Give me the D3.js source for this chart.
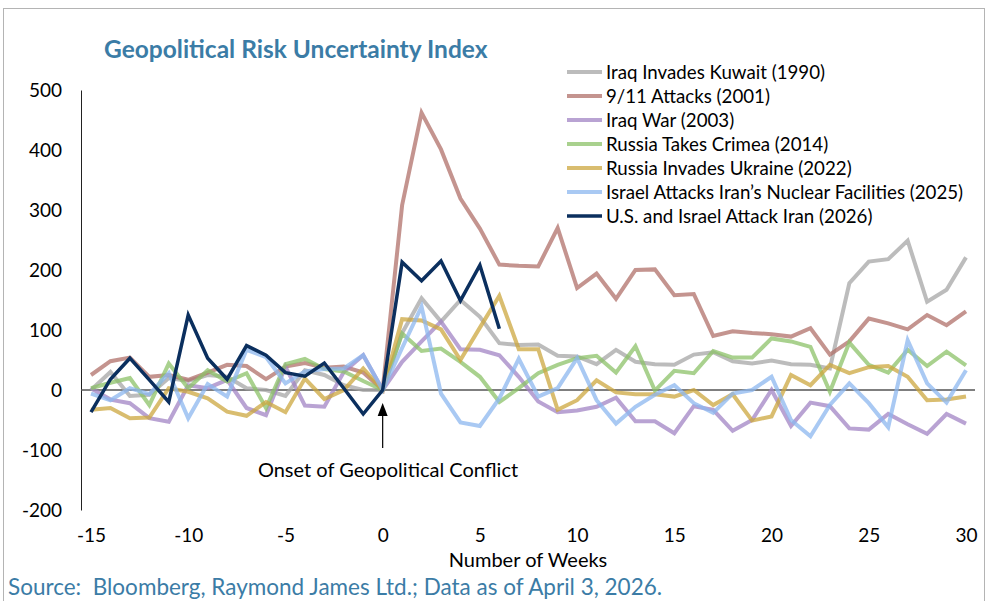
<!DOCTYPE html>
<html>
<head>
<meta charset="utf-8">
<script src="https://cdn.jsdelivr.net/npm/d3@7"></script>
<style>
  body { margin: 0; background: #fff; }
  text { font-family: Lato, "Open Sans", sans-serif; }
</style>
</head>
<body>
<div id="chart"></div>
<script>
const width = 987;
const height = 601;

const weeks = [-15, -14, -13, -12, -11, -10, -9, -8, -7, -6, -5, -4, -3, -2, -1, 0,
  1, 2, 3, 4, 5, 6, 7, 8, 9, 10, 11, 12, 13, 14, 15, 16, 17, 18, 19, 20,
  21, 22, 23, 24, 25, 26, 27, 28, 29, 30];

const kuwait1990 = [0, 30, -10, -8, 20, 15, 25, 22, 3, 0, -10, 33, 25, 8, 0, 0,
  95, 153, 114, 150, 122, 78, 75, 76, 57, 56, 43, 67, 47, 43, 42, 59, 63, 48, 44, 49,
  43, 42, 36, 178, 214, 218, 249, 147, 167, 221];
const attacks2001 = [25, 48, 54, 22, 25, 17, 29, 42, 40, 18, 39, 45, 37, 39, 29, 0,
  308, 462, 401, 319, 269, 209, 207, 206, 270, 170, 194, 152, 200, 201, 158, 160, 90, 98, 95, 93,
  89, 103, 59, 81, 119, 111, 101, 125, 108, 131];
const iraqWar2003 = [3, -16, -22, -47, -53, 8, 3, 17, -30, -42, 39, -26, -28, 30, 58, 0,
  47, 81, 114, 68, 67, 58, 22, -19, -37, -34, -28, -13, -52, -52, -72, -27, -33, -68, -50, 0,
  -60, -21, -27, -64, -66, -40, -57, -73, -40, -56];
const crimea2014 = [3, 12, 20, -25, 44, 3, 33, 14, 28, -30, 43, 52, 35, 31, 15, 0,
  94, 65, 69, 47, 22, -20, 3, 28, 42, 53, 57, 29, 73, -1, 32, 28, 65, 54, 54, 86,
  81, 72, -3, 79, 42, 29, 67, 40, 64, 41];
const ukraine2022 = [-33, -30, -47, -46, 3, -3, -14, -36, -43, -20, -37, 19, -15, 0, 36, 0,
  118, 116, 101, 50, 104, 157, 68, 68, -33, -17, 16, -4, -7, -7, -11, 0, -25, -7, -51, -44,
  25, 8, 42, 28, 38, 40, 22, -17, -16, -11];
const israel2025 = [-6, -17, 3, -7, 28, -47, 10, -11, 67, 55, 11, 31, 35, 36, 58, 0,
  70, 139, -6, -54, -60, -14, 52, -11, 3, 53, -17, -56, -28, -8, 8, -22, -38, -6, 0, 22,
  -50, -77, -25, 11, -22, -62, 83, 11, -21, 33];
const usIsrael2026 = [-37, 18, 53, 17, -20, 125, 53, 18, 74, 58, 29, 23, 45, 3, -40, 0,
  213, 182, 215, 149, 208, 102];

const seriesNames = ['Iraq Invades Kuwait (1990)', '9/11 Attacks (2001)', 'Iraq War (2003)',
  'Russia Takes Crimea (2014)', 'Russia Invades Ukraine (2022)',
  'Israel Attacks Iran\u2019s Nuclear Facilities (2025)', 'U.S. and Israel Attack Iran (2026)'];
const seriesValues = [kuwait1990, attacks2001, iraqWar2003, crimea2014, ukraine2022, israel2025, usIsrael2026];
const seriesColors = ['#a6a6a6', '#b0706a', '#a184c4', '#8cc168', '#cca73f', '#8cb7ef', '#0b2f5e'];

const yTicks = [-200, -100, 0, 100, 200, 300, 400, 500];
const xTicks = [-15, -10, -5, 0, 5, 10, 15, 20, 25, 30];

const x = d3.scaleLinear().domain([-15, 30]).range([91, 966]);
const y = d3.scaleLinear().domain([-200, 500]).range([510, 90]);

const svg = d3.select('#chart')
  .append('svg')
    .attr('width', width)
    .attr('height', height);

// outer frame
svg.append('rect')
  .attr('x', 3.5).attr('y', 8.5)
  .attr('width', 981).attr('height', 640)
  .attr('fill', 'none')
  .attr('stroke', '#b4b4b4');

svg.append('text')
  .attr('x', 104).attr('y', 58)
  .attr('font-size', 24.5).attr('font-weight', 700)
  .attr('fill', '#3b7ca6')
  .text('Geopolitical Risk Uncertainty Index');

// y axis
const yAxis = svg.append('g')
  .attr('transform', 'translate(81,0)')
  .call(d3.axisLeft(y).tickValues(yTicks).tickSize(0).tickPadding(19)
    .tickFormat(d => String(d)));
yAxis.select('.domain').attr('stroke', '#222');
yAxis.selectAll('text').attr('font-size', 19).attr('fill', '#000')
  .style('font-family', 'Lato, sans-serif');

// x axis labels (no axis line, zero line drawn separately)
const xAxis = svg.append('g')
  .attr('transform', 'translate(0,528)')
  .call(d3.axisBottom(x).tickValues(xTicks).tickSize(0).tickPadding(0)
    .tickFormat(d => String(d)));
xAxis.select('.domain').remove();
xAxis.selectAll('text').attr('font-size', 19).attr('fill', '#000')
  .style('font-family', 'Lato, sans-serif');

svg.append('line')
  .attr('x1', 81).attr('x2', 975)
  .attr('y1', y(0)).attr('y2', y(0))
  .attr('stroke', '#555').attr('stroke-width', 1.5);

svg.append('text')
  .attr('x', 528).attr('y', 567)
  .attr('text-anchor', 'middle')
  .attr('font-size', 20)
  .text('Number of Weeks');

const line = d3.line()
  .x((d, i) => x(weeks[i]))
  .y(d => y(d));

seriesValues.forEach((vals, i) => {
  svg.append('path')
    .attr('d', line(vals))
    .attr('fill', 'none')
    .attr('stroke', seriesColors[i])
    .attr('stroke-width', i === 6 ? 3.5 : 4)
    .attr('stroke-opacity', i === 6 ? 1 : 0.75)
    .attr('stroke-linejoin', 'miter');
});

// annotation
svg.append('line')
  .attr('x1', x(0)).attr('x2', x(0))
  .attr('y1', 448).attr('y2', 414)
  .attr('stroke', '#000').attr('stroke-width', 1.2);
svg.append('path')
  .attr('d', `M${x(0)},403 L${x(0) - 5},416 L${x(0) + 5},416 Z`)
  .attr('fill', '#000');
svg.append('text')
  .attr('x', 388).attr('y', 477)
  .attr('text-anchor', 'middle')
  .attr('font-size', 20)
  .text('Onset of Geopolitical Conflict');

// legend
const legend = svg.append('g');
seriesNames.forEach((name, i) => {
  const ly = 72 + i * 24;
  legend.append('line')
    .attr('x1', 567).attr('x2', 602)
    .attr('y1', ly).attr('y2', ly)
    .attr('stroke', seriesColors[i])
    .attr('stroke-width', i === 6 ? 3.5 : 4)
    .attr('stroke-opacity', i === 6 ? 1 : 0.75);
  legend.append('text')
    .attr('x', 606).attr('y', ly + 6.5)
    .attr('font-size', 18.7)
    .text(name);
});

svg.append('text')
  .attr('x', 8).attr('y', 595)
  .attr('font-size', 22.5)
  .attr('fill', '#3b7ca6')
  .style('white-space', 'pre')
  .text('Source:  Bloomberg, Raymond James Ltd.; Data as of April 3, 2026.');
</script>
</body>
</html>
